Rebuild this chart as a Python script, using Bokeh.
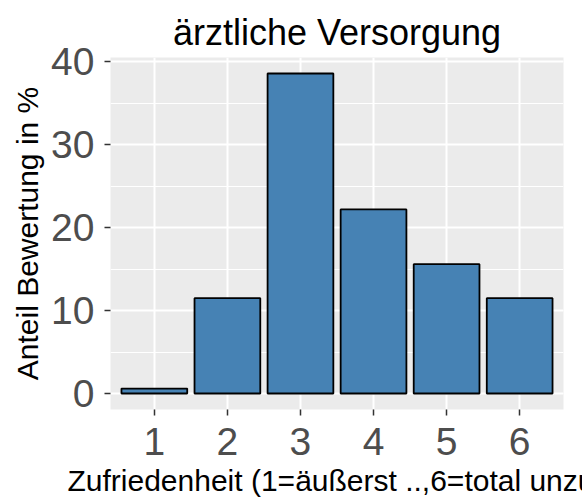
from bokeh.plotting import figure
from bokeh.models import Range1d, FixedTicker, SingleIntervalTicker, Title
from bokeh.embed import file_html
from bokeh.resources import INLINE

categories = [1, 2, 3, 4, 5, 6]
values = [0.6, 11.5, 38.6, 22.2, 15.6, 11.5]
title_text = "ärztliche Versorgung"
xlabel_text = "Zufriedenheit (1=äußerst ..,6=total unzufrieden)"
ylabel_text = "Anteil Bewertung in %"

FONT = "Liberation Sans"
ymax = max(values)
pad = 0.05 * ymax

p = figure(width=582, height=503, output_backend="svg", toolbar_location=None,
           x_range=Range1d(0.4, 6.6), y_range=Range1d(-pad, ymax + pad),
           min_border_left=110, min_border_right=19, min_border_top=57, min_border_bottom=94)

p.background_fill_color = "#EBEBEB"
p.border_fill_color = "white"
p.outline_line_color = None

p.vbar(x=categories, top=values, width=0.9, bottom=0,
       fill_color="#4682B4", line_color="black", line_width=1.8)

# title
p.title.text = title_text
p.title.align = "center"
p.title.text_font = FONT
p.title.text_font_size = "36px"
p.title.text_font_style = "normal"
p.title.text_color = "black"

p.xaxis.ticker = FixedTicker(ticks=categories)
p.yaxis.ticker = SingleIntervalTicker(interval=10, num_minor_ticks=2)
for ax in (p.xaxis, p.yaxis):
    ax.axis_line_color = None
    ax.major_tick_in = 0
    ax.major_tick_out = 6
    ax.major_tick_line_color = "#333333"
    ax.major_tick_line_width = 1.5
    ax.minor_tick_in = 0
    ax.minor_tick_out = 0
    ax.major_label_text_font = FONT
    ax.major_label_text_font_size = "39px"
    ax.major_label_text_color = "#4D4D4D"

p.xaxis.major_label_standoff = 12
p.yaxis.major_label_standoff = 10

p.yaxis.axis_label = ylabel_text
p.yaxis.axis_label_text_font = FONT
p.yaxis.axis_label_text_font_size = "30px"
p.yaxis.axis_label_text_font_style = "normal"
p.yaxis.axis_label_text_color = "black"
p.yaxis.axis_label_standoff = 4

p.xgrid.grid_line_color = "white"
p.xgrid.grid_line_width = 2
p.ygrid.grid_line_color = "white"
p.ygrid.grid_line_width = 2
p.ygrid.minor_grid_line_color = "white"
p.ygrid.minor_grid_line_width = 1

xtitle = Title(text=xlabel_text, align="left", offset=-43,
               text_font=FONT, text_font_size="30px", text_font_style="normal",
               text_color="black", standoff=9)
p.add_layout(xtitle, "below")

open("out.html", "w").write(file_html(p, INLINE))
